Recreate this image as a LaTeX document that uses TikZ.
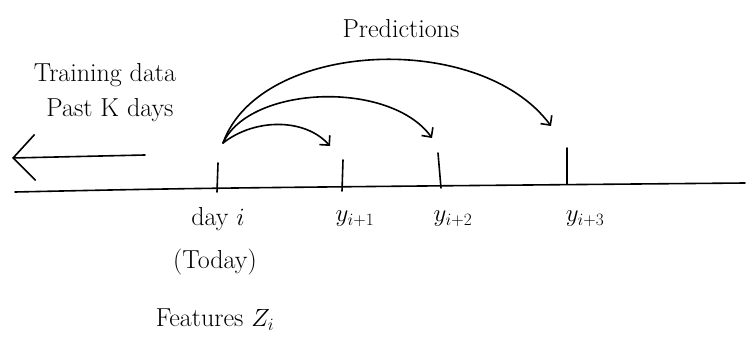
\documentclass[tikz,border=0pt]{standalone}
\usetikzlibrary{arrows.meta}
\begin{document}
\begin{tikzpicture}[x=1pt,y=-1pt,
  pen/.style={line width=1.6pt,line cap=round,line join=round},
  lbl/.style={font=\fontsize{26}{30}\selectfont,inner sep=0pt},
  predarrow/.style={pen,-{Straight Barb[length=7pt,width=14pt,line width=1.6pt]}}]
\path[use as bounding box,fill=white] (0,0) rectangle (749,339);
% axis
\coordinate (axL) at (15,192);
\coordinate (axR) at (745,183);
\draw[pen] (axL) .. controls (200,188) .. (axR);
% ticks
\coordinate (t0a) at (218,163); \coordinate (t0b) at (217,192);
\coordinate (t1a) at (343,160); \coordinate (t1b) at (342,191);
\coordinate (t2a) at (438,153); \coordinate (t2b) at (441,188);
\coordinate (t3a) at (567,148); \coordinate (t3b) at (567,184);
\draw[pen] (t0a) -- (t0b);
\draw[pen] (t1a) -- (t1b);
\draw[pen] (t2a) -- (t2b);
\draw[pen] (t3a) -- (t3b);
% training arrow
\coordinate (trS) at (145,155);
\coordinate (trE) at (12,158);
\draw[pen,-{Straight Barb[length=22pt,width=46pt,line width=1.6pt]}] (trS) -- (trE);
% prediction arcs
\coordinate (org) at (223,143);
\coordinate (p1) at (330,146);
\coordinate (p2) at (432,138);
\coordinate (p3) at (551,126);
\draw[predarrow] (org) .. controls (255,118) and (305,118) .. (p1);
\draw[predarrow] (org) .. controls (250,85) and (390,80) .. (p2);
\draw[predarrow] (org) .. controls (260,40) and (480,30) .. (p3);
% labels
\node[lbl] (train) at (105,75) {Training data};
\node[lbl] (past) at (110,110) {Past K days};
\node[lbl] (pred) at (401,29) {Predictions};
\node[lbl] (dayi) at (218,219) {day $i$};
\node[lbl] (today) at (215,262) {(Today)};
\node[lbl] (feat) at (215,320) {Features $Z_i$};
\node[lbl] (y1) at (355,219) {$y_{i+1}$};
\node[lbl] (y2) at (453,219) {$y_{i+2}$};
\node[lbl] (y3) at (585,219) {$y_{i+3}$};
\end{tikzpicture}
\end{document}
